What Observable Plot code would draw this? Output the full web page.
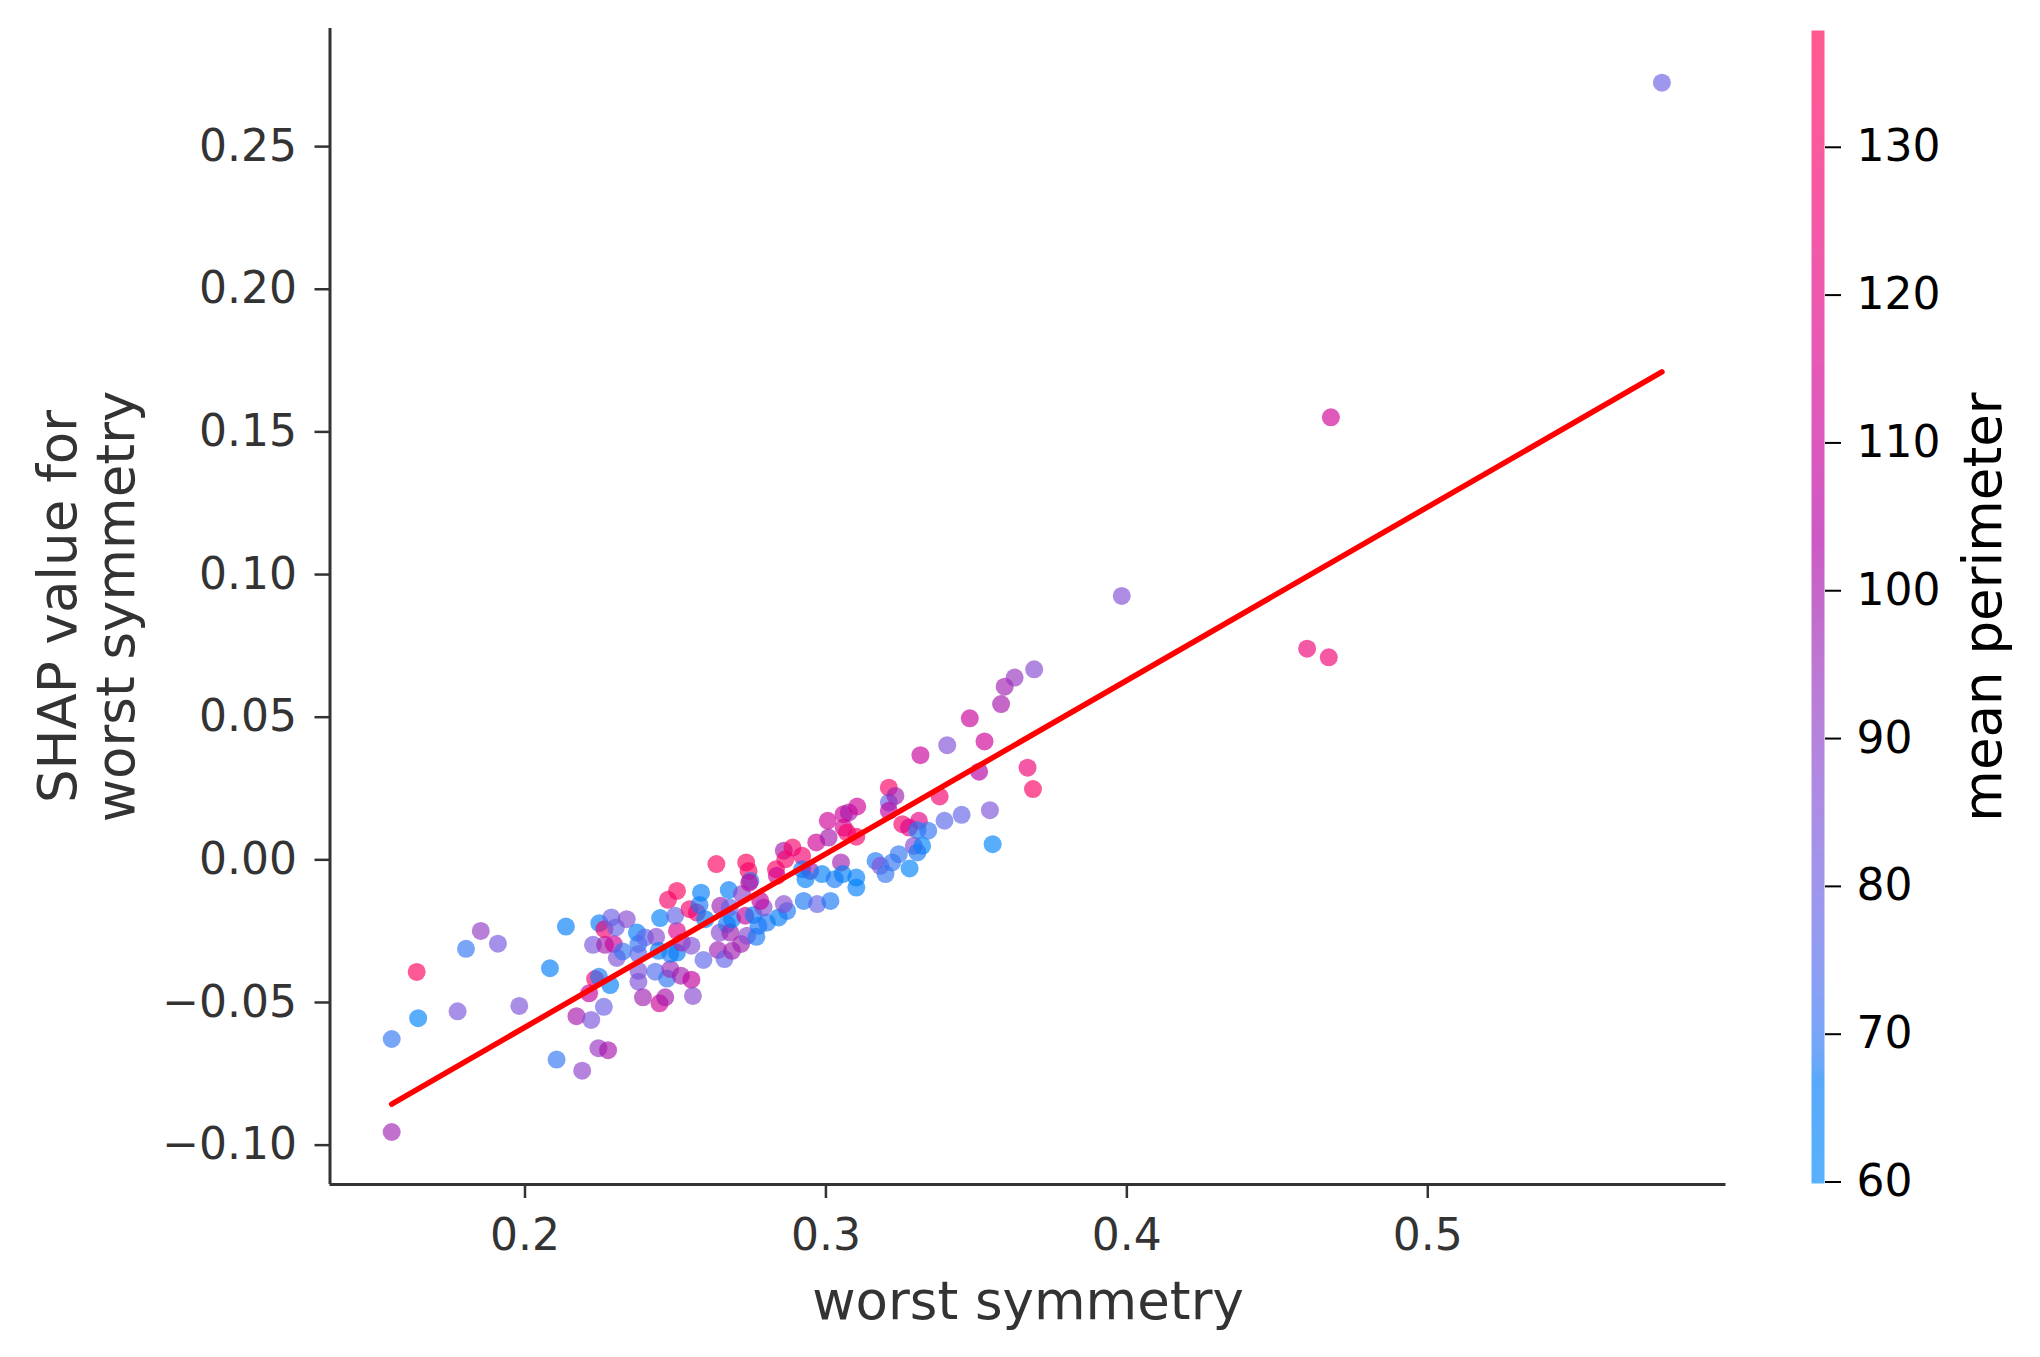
<!DOCTYPE html>
<html><head><meta charset="utf-8">
<script src="https://cdn.jsdelivr.net/npm/d3@7"></script>
<script src="https://cdn.jsdelivr.net/npm/@observablehq/plot@0.6"></script>
<style>
html,body{margin:0;padding:0;background:#fff;}
#wrap{position:relative;width:2040px;height:1357px;overflow:hidden;background:#fff;}
#main{position:absolute;left:0;top:0;}
#cbar{position:absolute;left:1790px;top:0;}
</style></head><body><div id="wrap"><div id="main"></div><div id="cbar"></div></div>
<script>
const worstSymmetry = [
0.1557,0.1557,0.1640,0.1645,0.1804,0.1853,0.1910,0.1776,0.1981,0.2083,
0.2136,0.2105,0.2190,0.2244,0.2276,0.2171,0.2220,0.2262,0.2213,0.2233,
0.2246,0.2283,0.2226,0.2266,0.2295,0.2305,0.2325,0.2247,0.2264,0.2287,
0.2302,0.2338,0.2372,0.2377,0.2399,0.2436,0.2377,0.2377,0.2377,0.2392,
0.2447,0.2466,0.2433,0.2472,0.2483,0.2518,0.2553,0.2558,0.2444,0.2483,
0.2505,0.2521,0.2553,0.2505,0.2449,0.2499,0.2475,0.2547,0.2571,0.2580,
0.2599,0.2593,0.2641,0.2663,0.2688,0.2718,0.2647,0.2671,0.2682,0.2688,
0.2738,0.2769,0.2649,0.2680,0.2732,0.2760,0.2776,0.2804,0.2793,0.2843,
0.2871,0.2860,0.2926,0.2971,0.3015,0.2782,0.2505,0.2585,0.2636,0.2677,
0.2721,0.2735,0.2743,0.2749,0.2745,0.2834,0.2837,0.2860,0.2865,0.2889,
0.2921,0.2921,0.2948,0.2932,0.2987,0.2968,0.3006,0.3009,0.3029,0.3050,
0.3056,0.3059,0.3076,0.3104,0.3059,0.3070,0.3101,0.3101,0.3101,0.3165,
0.3181,0.3198,0.3209,0.3209,0.3209,0.3231,0.3254,0.3276,0.3309,0.3304,
0.3340,0.3292,0.3320,0.3304,0.3242,0.3220,0.3278,0.3378,0.3394,0.3451,
0.3545,0.3554,0.3314,0.3403,0.3478,0.3527,0.3509,0.3582,0.3594,0.3627,
0.3692,0.3670,0.3688,0.3983,0.4599,0.4671,0.4678,0.5778];
const shapValues = [
-0.0628,-0.0954,-0.0393,-0.0555,-0.0312,-0.0249,-0.0294,-0.0531,-0.0512,-0.0380,
-0.0234,-0.0700,-0.0739,-0.0660,-0.0667,-0.0548,-0.0561,-0.0515,-0.0468,-0.0418,
-0.0410,-0.0439,-0.0298,-0.0298,-0.0295,-0.0344,-0.0321,-0.0222,-0.0243,-0.0202,
-0.0237,-0.0208,-0.0255,-0.0295,-0.0272,-0.0270,-0.0330,-0.0389,-0.0427,-0.0482,
-0.0503,-0.0482,-0.0392,-0.0416,-0.0383,-0.0406,-0.0420,-0.0477,-0.0319,-0.0330,
-0.0325,-0.0290,-0.0301,-0.0249,-0.0204,-0.0196,-0.0140,-0.0173,-0.0185,-0.0158,
-0.0208,-0.0351,-0.0316,-0.0348,-0.0319,-0.0295,-0.0255,-0.0225,-0.0255,-0.0208,
-0.0266,-0.0270,-0.0161,-0.0167,-0.0196,-0.0193,-0.0231,-0.0220,-0.0167,-0.0202,
-0.0179,-0.0155,-0.0144,-0.0155,-0.0144,-0.0144,-0.0109,-0.0115,-0.0015,-0.0106,
-0.0120,-0.0009,-0.0039,-0.0074,-0.0080,-0.0033,-0.0056,0.0032,0.0002,0.0043,
0.0014,-0.0033,-0.0039,-0.0068,-0.0050,0.0061,0.0137,0.0078,-0.0068,-0.0009,
-0.0050,0.0160,0.0166,0.0187,0.0113,0.0096,0.0081,-0.0062,-0.0097,-0.0004,
-0.0021,-0.0050,0.0253,0.0201,0.0172,0.0224,0.0125,0.0113,0.0137,0.0104,
0.0102,0.0049,0.0049,0.0026,0.0020,-0.0009,-0.0030,0.0222,0.0137,0.0158,
0.0174,0.0055,0.0367,0.0402,0.0496,0.0415,0.0309,0.0546,0.0607,0.0639,
0.0668,0.0323,0.0248,0.0925,0.0740,0.0710,0.1551,0.2724];
const meanPerimeter = [
70,97,133,63,70,92,82,84,85,66,
66,70,90,94,100,100,84,80,108,130,
68,66,84,98,112,86,70,66,128,80,
78,88,66,70,77,88,76,85,85,98,
112,100,74,70,96,98,108,88,66,68,
65,98,86,118,64,78,130,130,128,68,
66,77,98,78,98,98,88,68,98,66,
88,68,98,78,110,66,68,68,88,66,
68,88,68,78,68,108,133,66,133,66,
90,133,132,68,112,132,114,100,130,130,
128,68,98,64,64,112,112,100,68,98,
66,112,100,112,114,130,130,64,64,68,
86,70,132,78,108,98,130,118,120,68,
70,88,63,68,70,70,63,128,76,78,
85,63,110,86,110,112,104,100,98,94,
88,125,132,86,125,127,112,80];
const fitX = [0.1557, 0.5778];
const fitY = [-0.0856, 0.1710];
const xTicks = [0.2, 0.3, 0.4, 0.5];
const yTicks = [-0.10, -0.05, 0.00, 0.05, 0.10, 0.15, 0.20, 0.25];
const cTicks = [60, 70, 80, 90, 100, 110, 120, 130];
const xLabel = "worst symmetry";
const yLabel = "SHAP value for\nworst symmetry";
const cLabel = "mean perimeter";

const XD = [0.1352, 0.5991];
const YD = [-0.1138, 0.2914];
const CD = [59.9, 137.9];

// SHAP red_blue colormap (LCH interpolation blue -> purple -> red)
function redBlue(t) {
  t = Math.max(0, Math.min(1, t));
  const l = t < 0.5 ? 54 + (40 - 54) * (t / 0.5) : 40 + (54 - 40) * ((t - 0.5) / 0.5);
  const c = 70 + 20 * t;
  const h = 266.93 + 113.39 * t;
  return d3.hcl(h, c, l).formatHex();
}
const colorOpts = {type: "linear", domain: CD, interpolate: redBlue, clamp: true};

const pts = worstSymmetry.map((x, i) => ({x, y: shapValues[i], v: meanPerimeter[i]}));
const fit = fitX.map((x, i) => ({x, y: fitY[i]}));
const FONT = "'DejaVu Sans', sans-serif";

const main = Plot.plot({
  width: 1760, height: 1357,
  marginLeft: 329.5, marginRight: 34.5, marginTop: 28, marginBottom: 173,
  x: {domain: XD},
  y: {domain: YD},
  color: colorOpts,
  style: {fontFamily: FONT, fontSize: "44px", color: "#333", background: "transparent", overflow: "visible"},
  marks: [
    Plot.dot(pts, {x: "x", y: "y", fill: "v", r: 9, fillOpacity: 0.65}),
    Plot.line(fit, {x: "x", y: "y", stroke: "#ff0000", strokeWidth: 5.5}),
    Plot.ruleX([XD[0]], {stroke: "#333", strokeWidth: 3}),
    Plot.ruleY([YD[0]], {stroke: "#333", strokeWidth: 3}),
    Plot.axisX(xTicks, {tickSize: 14, tickPadding: 20, tickFormat: d3.format(".1f"), label: null, strokeWidth: 2.5}),
    Plot.axisY(yTicks, {tickSize: 15, tickPadding: 18, tickFormat: d3.format(".2f"), label: null, strokeWidth: 2.5}),
    Plot.text([xLabel], {frameAnchor: "bottom", textAnchor: "middle", lineAnchor: "bottom", dy: 134, fontSize: 53, fill: "#333"}),
    Plot.text([yLabel], {frameAnchor: "left", textAnchor: "middle", lineAnchor: "middle", rotate: -90, dx: -244, lineHeight: 1.1, fontSize: 53, fill: "#333"})
  ]
});
document.getElementById("main").appendChild(main);

const cbar = Plot.plot({
  width: 250, height: 1357,
  marginLeft: 21, marginRight: 216, marginTop: 30, marginBottom: 174,
  x: {domain: [0, 1], axis: null},
  y: {domain: CD},
  color: colorOpts,
  style: {fontFamily: FONT, fontSize: "44px", color: "#000", background: "transparent", overflow: "visible"},
  marks: [
    Plot.raster({x1: 0, x2: 1, y1: CD[0], y2: CD[1], width: 1, height: 600, fill: (x, y) => y, fillOpacity: 0.65, imageRendering: "auto"}),
    Plot.axisY(cTicks, {anchor: "right", tickSize: 16, tickPadding: 16, strokeWidth: 2, label: null}),
    Plot.text([cLabel], {frameAnchor: "right", textAnchor: "middle", lineAnchor: "middle", rotate: -90, dx: 160, fontSize: 53, fill: "#000"})
  ]
});
document.getElementById("cbar").appendChild(cbar);
</script></body></html>
